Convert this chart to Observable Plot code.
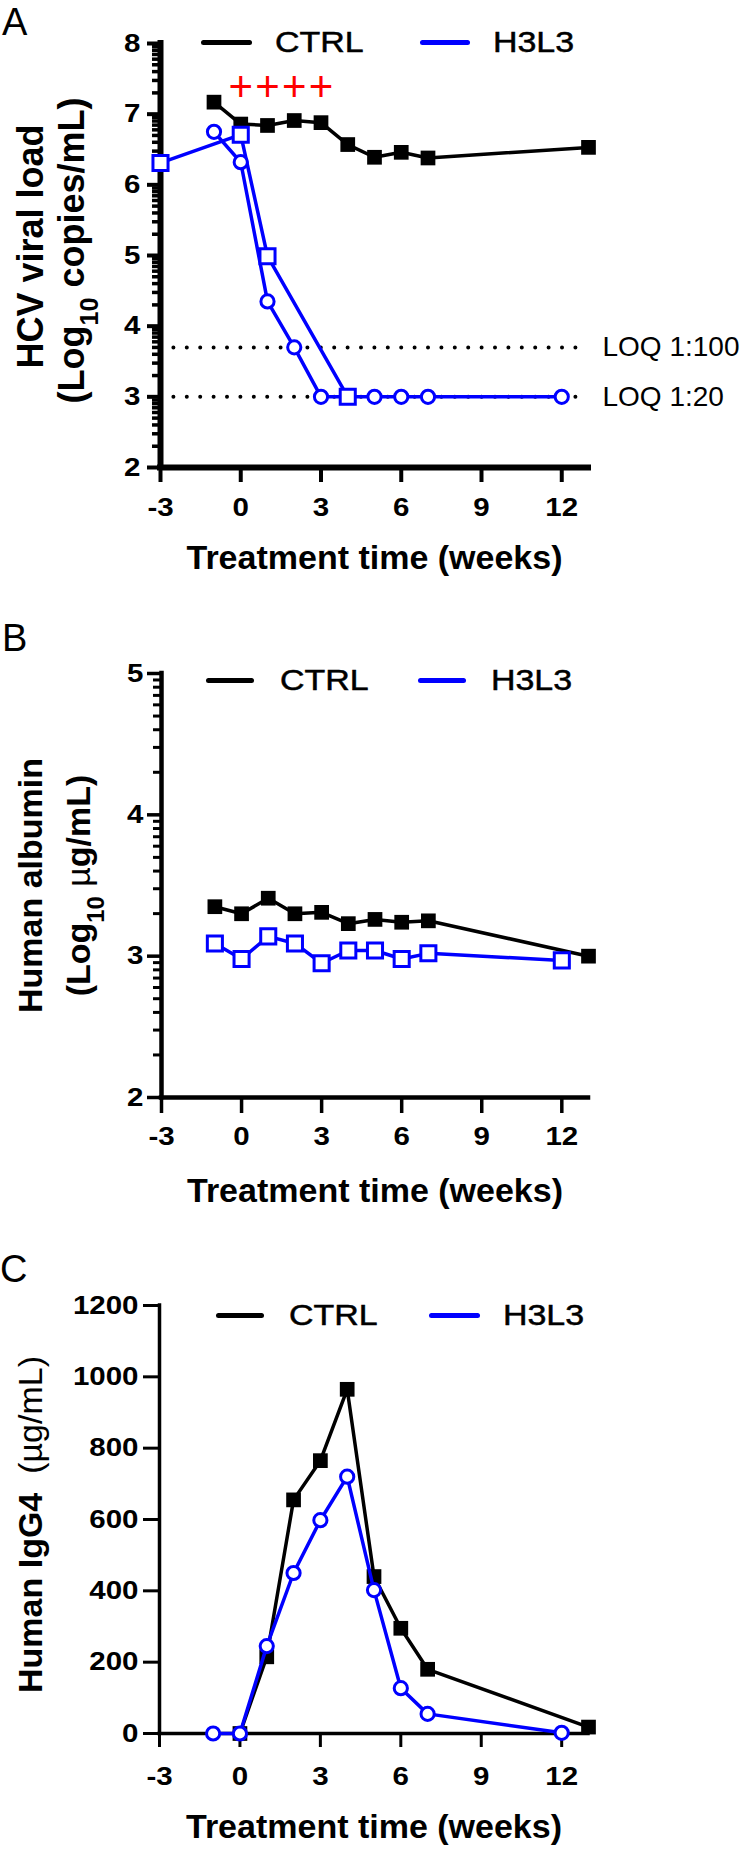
<!DOCTYPE html>
<html><head><meta charset="utf-8">
<script src="https://cdn.jsdelivr.net/npm/d3@7"></script>
<script src="https://cdn.jsdelivr.net/npm/@observablehq/plot@0.6"></script>
<style>
html,body{margin:0;padding:0;background:#fff;}
#page{position:relative;width:750px;height:1853px;overflow:hidden;font-family:"Liberation Sans",Arial,Helvetica,sans-serif;}
.letter{position:absolute;font-size:38px;line-height:38px;height:38px;color:#000;}
.lg-line{position:absolute;height:5px;border-radius:2.5px;}
.lg-text{position:absolute;font-size:29px;line-height:30px;height:30px;transform:scaleX(1.17);transform-origin:left center;white-space:nowrap;color:#000;-webkit-text-stroke:0.5px #000;}
</style></head><body><div id="page"></div>
<script>
// ---------- data ----------
const xDomain = [-3, 13];
const xTicks = [-3, 0, 3, 6, 9, 12];
const seriesNames = ["CTRL", "H3L3"];

// Panel A: HCV viral load (log10 copies/mL)
const aYDomain = [2, 8];
const aYTicks = [2, 3, 4, 5, 6, 7, 8];
const aCtrlWeeks = [-1, 0, 1, 2, 3, 4, 5, 6, 7, 13];
const aCtrlLoad  = [7.17, 6.86, 6.84, 6.91, 6.88, 6.57, 6.39, 6.46, 6.38, 6.53];
const aSqWeeks = [-3, 0, 1, 4];
const aSqLoad  = [6.31, 6.71, 4.99, 3.0];
const aCiWeeks = [-1, 0, 1, 2, 3, 5, 6, 7, 12];
const aCiLoad  = [6.75, 6.32, 4.35, 3.70, 3.0, 3.0, 3.0, 3.0, 3.0];
const loqValues = [3.699, 3.0];
const loqLabels = ["LOQ 1:100", "LOQ 1:20"];
const doseWeeks = [0, 1, 2, 3];
const doseLevel = 7.37;

// Panel B: human albumin (log10 ug/mL)
const bYDomain = [2, 5];
const bYTicks = [2, 3, 4, 5];
const bCtrlWeeks = [-1, 0, 1, 2, 3, 4, 5, 6, 7, 13];
const bCtrlAlb   = [3.35, 3.30, 3.41, 3.30, 3.31, 3.23, 3.26, 3.24, 3.25, 3.00];
const bH3Weeks = [-1, 0, 1, 2, 3, 4, 5, 6, 7, 12];
const bH3Alb   = [3.09, 2.98, 3.14, 3.09, 2.95, 3.04, 3.04, 2.98, 3.02, 2.97];

// Panel C: human IgG4 (ug/mL)
const cYDomain = [0, 1200];
const cYTicks = [0, 200, 400, 600, 800, 1000, 1200];
const cCtrlWeeks = [0, 1, 2, 3, 4, 5, 6, 7, 13];
const cCtrlIgG   = [0, 215, 655, 765, 965, 440, 295, 180, 18];
const cH3Weeks = [-1, 0, 1, 2, 3, 4, 5, 6, 7, 12];
const cH3IgG   = [0, 0, 245, 450, 598, 720, 402, 127, 55, 2];

// ---------- helpers ----------
const FONT = '"Liberation Sans", Arial, Helvetica, sans-serif';
const BLUE = "#0000ff";
const rows = (w, v) => w.map((x, i) => ({x, y: v[i]}));
function minorLogTicks([lo, hi]) {
  const t = [];
  for (let d = lo; d < hi; d++) for (let k = 2; k <= 9; k++) t.push(d + Math.log10(k));
  return t;
}
const page = document.getElementById("page");

function richText(svg, plain, parts) {
  d3.select(svg).selectAll("text").filter(function () { return this.textContent === plain; })
    .each(function () {
      const t = d3.select(this); t.text(null);
      for (const p of parts) {
        const s = t.append("tspan").text(p.t);
        if (p.sub) s.attr("baseline-shift", "sub").attr("font-size", "70%");
        if (p.w) s.attr("font-weight", p.w);
      }
    });
}
function stretchTicks(svg, k) {
  d3.select(svg).selectAll('g[aria-label$="tick label"] text').each(function () {
    const L = this.getComputedTextLength();
    if (L > 0) { this.setAttribute("textLength", L * k); this.setAttribute("lengthAdjust", "spacingAndGlyphs"); }
  });
}

function panel(cfg) {
  const marks = [
    Plot.axisX({ticks: xTicks, tickSize: cfg.xTickSize, tickPadding: cfg.xTickPad, strokeWidth: cfg.tickW,
      fontSize: 25, fontWeight: "bold", fontFamily: FONT, label: null, tickFormat: d => String(d)}),
    Plot.axisY({ticks: cfg.yTicks, tickSize: cfg.yTickSize, tickPadding: cfg.yTickPad, strokeWidth: cfg.tickW,
      fontSize: 25, fontWeight: "bold", fontFamily: FONT, label: null, tickFormat: d => String(d)})
  ];
  if (cfg.minor) marks.push(Plot.axisY({ticks: minorLogTicks(cfg.yDomain), tickSize: 8, strokeWidth: cfg.tickW - 0.5,
      label: null, tickFormat: () => ""}));
  marks.push(
    Plot.ruleX([xDomain[0]], {strokeWidth: cfg.axisW, strokeLinecap: "square"}),
    Plot.ruleY([cfg.yDomain[0]], {strokeWidth: cfg.axisW, strokeLinecap: "square"}),
    ...cfg.marks,
    Plot.text([cfg.xTitle], {frameAnchor: "bottom", dy: cfg.xTitleDy, lineAnchor: "middle",
      fontSize: 34, fontWeight: "bold", fontFamily: FONT, fill: "black"}),
    ...cfg.yTitles.map(t => Plot.text([t.text], {frameAnchor: "left", dx: t.x - cfg.ml, dy: t.dy, rotate: -90,
      lineAnchor: "middle", textAnchor: "middle", fontSize: t.size, fontWeight: "bold", fontFamily: FONT, fill: "black"}))
  );
  const svg = Plot.plot({
    width: 750, height: cfg.height,
    marginTop: cfg.mt, marginBottom: cfg.mb, marginLeft: cfg.ml, marginRight: 750 - 588,
    style: {fontFamily: FONT, background: "transparent", color: "black", overflow: "visible"},
    x: {domain: xDomain},
    y: {domain: cfg.yDomain},
    marks
  });
  svg.style.position = "absolute"; svg.style.left = "0px"; svg.style.top = cfg.top + "px";
  page.appendChild(svg);
  stretchTicks(svg, 1.18);
  (cfg.rich || []).forEach(r => richText(svg, r[0], r[1]));
  // letter
  const L = document.createElement("div");
  L.className = "letter"; L.textContent = cfg.letter;
  L.style.left = cfg.letterPos[0] + "px"; L.style.top = cfg.letterPos[1] + "px";
  page.appendChild(L);
  // legend
  const colors = ["#000", BLUE];
  cfg.legend.forEach((g, i) => {
    const ln = document.createElement("div"); ln.className = "lg-line";
    ln.style.left = g.x1 + "px"; ln.style.width = (g.x2 - g.x1) + "px"; ln.style.top = (g.y - 2.5) + "px";
    ln.style.background = colors[i]; page.appendChild(ln);
    const tx = document.createElement("div"); tx.className = "lg-text"; tx.textContent = seriesNames[i];
    tx.style.left = g.tx + "px"; tx.style.top = (g.y - 15) + "px"; page.appendChild(tx);
  });
}

const lineOpts = (stroke) => ({x: "x", y: "y", stroke, strokeWidth: 3.5});
const ctrlDots = {x: "x", y: "y", symbol: "square", fill: "black", r: 8.3};
const sqDots = {x: "x", y: "y", symbol: "square", fill: "white", stroke: BLUE, strokeWidth: 3, r: 8.5};
const ciDots = {x: "x", y: "y", symbol: "circle", fill: "white", stroke: BLUE, strokeWidth: 3, r: 6.6};

// Panel A
const aCtrl = rows(aCtrlWeeks, aCtrlLoad), aSq = rows(aSqWeeks, aSqLoad), aCi = rows(aCiWeeks, aCiLoad);
panel({
  top: 0, height: 620, mt: 43, mb: 153, ml: 160,
  yDomain: aYDomain, yTicks: aYTicks, minor: true,
  axisW: 6, tickW: 4, xTickSize: 15, xTickPad: 16, yTickSize: 13, yTickPad: 7,
  xTitle: "Treatment time (weeks)", xTitleDy: 91,
  yTitles: [{text: "HCV viral load", x: 31, dy: -9, size: 36}, {text: "(Log10 copies/mL)", x: 72, dy: -5, size: 36}],
  rich: [["(Log10 copies/mL)", [{t: "(Log"}, {t: "10", sub: true}, {t: " copies/mL)"}]]],
  marks: [
    Plot.ruleY(loqValues, {stroke: "black", strokeWidth: 4, strokeDasharray: "0,13.4", strokeLinecap: "round"}),
    Plot.text(loqValues, {y: d => d, text: (d, i) => loqLabels[i], frameAnchor: "right", textAnchor: "start", dx: 14,
      fontSize: 28, fontFamily: FONT, fill: "black"}),
    Plot.text(doseWeeks, {x: d => d, y: () => doseLevel, text: () => "+", fill: "red", fontSize: 42, fontFamily: FONT}),
    Plot.line(aCtrl, lineOpts("black")),
    Plot.dot(aCtrl, ctrlDots),
    Plot.line(aSq, lineOpts(BLUE)),
    Plot.line(aCi, lineOpts(BLUE)),
    Plot.dot(aCi, ciDots),
    Plot.dot(aSq, sqDots)
  ],
  letter: "A", letterPos: [2, 3],
  legend: [{x1: 201, x2: 252, y: 42, tx: 275}, {x1: 420, x2: 470, y: 42, tx: 493}]
});

// Panel B
const bCtrl = rows(bCtrlWeeks, bCtrlAlb), bH3 = rows(bH3Weeks, bH3Alb);
panel({
  top: 620, height: 620, mt: 53, mb: 143, ml: 161,
  yDomain: bYDomain, yTicks: bYTicks, minor: true,
  axisW: 4.5, tickW: 3.5, xTickSize: 16, xTickPad: 14, yTickSize: 14, yTickPad: 4,
  xTitle: "Treatment time (weeks)", xTitleDy: 94,
  yTitles: [{text: "Human albumin", x: 31, dy: 0, size: 34}, {text: "(Log10 µg/mL)", x: 79, dy: 0, size: 34}],
  rich: [["(Log10 µg/mL)", [{t: "(Log"}, {t: "10", sub: true}, {t: " "}, {t: "µ", w: "normal"}, {t: "g/mL)"}]]],
  marks: [
    Plot.line(bCtrl, lineOpts("black")),
    Plot.dot(bCtrl, ctrlDots),
    Plot.line(bH3, lineOpts(BLUE)),
    Plot.dot(bH3, sqDots)
  ],
  letter: "B", letterPos: [2, 619],
  legend: [{x1: 206, x2: 254, y: 680, tx: 280}, {x1: 418, x2: 466, y: 680, tx: 491}]
});

// Panel C
const cCtrl = rows(cCtrlWeeks, cCtrlIgG), cH3 = rows(cH3Weeks, cH3IgG);
panel({
  top: 1240, height: 613, mt: 65, mb: 120, ml: 159,
  yDomain: cYDomain, yTicks: cYTicks, minor: false,
  axisW: 3.5, tickW: 3, xTickSize: 14, xTickPad: 20, yTickSize: 16, yTickPad: 5,
  xTitle: "Treatment time (weeks)", xTitleDy: 94,
  yTitles: [{text: "Human IgG4  (µg/mL)", x: 31, dy: 5, size: 34}],
  rich: [["Human IgG4  (µg/mL)", [{t: "Human IgG4  "}, {t: "(µg/mL)", w: "normal"}]]],
  marks: [
    Plot.line(cCtrl, lineOpts("black")),
    Plot.dot(cCtrl, ctrlDots),
    Plot.line(cH3, lineOpts(BLUE)),
    Plot.dot(cH3, ciDots)
  ],
  letter: "C", letterPos: [0, 1250],
  legend: [{x1: 216, x2: 264, y: 1315, tx: 289}, {x1: 429, x2: 480, y: 1315, tx: 503}]
});
</script></body></html>
